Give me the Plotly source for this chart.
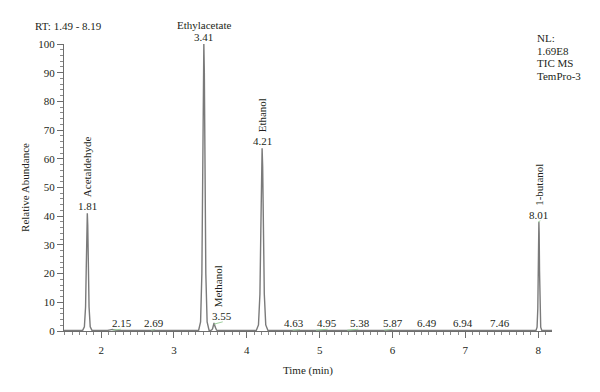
import plotly.graph_objects as go

# ---------------- data ----------------
# main labelled peaks
peak_rt = [1.81, 3.41, 3.55, 4.21, 8.01]
peak_height = [41.0, 100.0, 2.8, 63.7, 38.0]
peak_halfwidth = [0.040, 0.045, 0.035, 0.050, 0.025]
peak_name = ["Acetaldehyde", "Ethylacetate", "Methanol", "Ethanol", "1-butanol"]
peak_label = ["1.81", "3.41", "3.55", "4.21", "8.01"]

# small baseline peaks
minor_rt = [2.15, 2.69, 4.63, 4.95, 5.38, 5.87, 6.49, 6.94, 7.46]
minor_height = [0.5, 0.4, 0.4, 0.4, 0.4, 0.4, 0.3, 0.3, 0.3]
minor_label = ["2.15", "2.69", "4.63", "4.95", "5.38", "5.87", "6.49", "6.94", "7.46"]
minor_label_x = [2.29, 2.72, 4.645, 5.10, 5.55, 6.01, 6.48, 6.97, 7.48]

# green integration marks (start, end) under the small-peak labels
mark_start = [2.16, 2.69, 3.55, 4.63, 4.95, 5.38, 5.89, 8.00]
mark_end = [2.27, 2.74, 3.67, 4.73, 5.11, 5.53, 6.00, 8.03]
mark_y0 = [0.3, 0.3, 2.4, 0.3, 0.3, 0.3, 0.3, 38.0]
mark_y1 = [0.6, 0.5, 3.2, 0.5, 0.6, 0.6, 0.6, 38.4]

# peak profile (offset in half-widths, fraction of height)
profile_offset = [-1.6, -1.0, -0.6, -0.35, -0.15, 0.0, 0.15, 0.35, 0.6, 1.0, 1.6]
profile_frac = [0.0, 0.03, 0.2, 0.55, 0.9, 1.0, 0.9, 0.55, 0.2, 0.03, 0.0]

x_start, x_end = 1.49, 8.19
baseline = 0.2

# ---------------- build the trace from the peak table ----------------
all_peaks = sorted(
    [(r, h, w) for r, h, w in zip(peak_rt, peak_height, peak_halfwidth)]
    + [(r, h, 0.04) for r, h in zip(minor_rt, minor_height)]
)
xs, ys = [x_start], [baseline]
for r, h, w in all_peaks:
    for o, f in zip(profile_offset, profile_frac):
        xs.append(r + o * w)
        ys.append(baseline + f * (h - baseline))
xs.append(x_end)
ys.append(baseline)

fig = go.Figure()
fig.add_trace(go.Scatter(x=xs, y=ys, mode="lines",
                         line=dict(color="#7a7a7a", width=1.4),
                         hoverinfo="skip", showlegend=False))

gx, gy = [], []
for a, b, y0, y1 in zip(mark_start, mark_end, mark_y0, mark_y1):
    gx += [a, b, None]
    gy += [y0, y1, None]
fig.add_trace(go.Scatter(x=gx, y=gy, mode="lines",
                         line=dict(color="#9fd09f", width=1),
                         hoverinfo="skip", showlegend=False))

FONT = "Liberation Serif"
TXT = "#231f20"
ann = []
# main peak labels
for r, h, name, lab in zip(peak_rt, peak_height, peak_name, peak_label):
    lx = r + (0.11 if name == "Methanol" else 0.0)
    ann.append(dict(x=lx, y=h, xref="x", yref="y", text=lab, showarrow=False,
                    xanchor="center", yanchor="bottom", yshift=-1,
                    font=dict(family=FONT, size=11, color=TXT)))
    if name == "Ethylacetate":
        ann.append(dict(x=r, y=h, xref="x", yref="y", text=name, showarrow=False,
                        xanchor="center", yanchor="bottom", yshift=11,
                        font=dict(family=FONT, size=11, color=TXT)))
    else:
        ann.append(dict(x=lx - (0.05 if name == "Methanol" else 0.0), y=h, xref="x", yref="y",
                        text=name, showarrow=False, textangle=-90,
                        xanchor="center", yanchor="bottom", yshift=14,
                        font=dict(family=FONT, size=11, color=TXT)))
# minor labels
for lx, lab in zip(minor_label_x, minor_label):
    ann.append(dict(x=lx, y=0.6, xref="x", yref="y", text=lab, showarrow=False,
                    xanchor="center", yanchor="bottom", yshift=-2,
                    font=dict(family=FONT, size=11, color=TXT)))

# header texts
ann.append(dict(x=(33 - 64) / 488, y=(331 - 26) / 287, xref="paper", yref="paper",
                text="RT: 1.49 - 8.19", showarrow=False, xanchor="left", yanchor="middle",
                font=dict(family=FONT, size=11, color=TXT)))
for i, t in enumerate(["NL:", "1.69E8", "TIC MS", "TemPro-3"]):
    ann.append(dict(x=(535 - 64) / 488, y=(331 - (38 + 12.7 * i)) / 287,
                    xref="paper", yref="paper", text=t, showarrow=False,
                    xanchor="left", yanchor="middle",
                    font=dict(family=FONT, size=11, color=TXT)))

fig.update_layout(
    width=600, height=392,
    margin=dict(l=64, r=48, t=44, b=61),
    paper_bgcolor="white", plot_bgcolor="white",
    font=dict(family=FONT, size=11, color=TXT),
    annotations=ann,
    xaxis=dict(range=[x_start, x_end], showgrid=False, zeroline=False, automargin=False,
               showline=True, linecolor="#6d6d6d", linewidth=1,
               tickmode="array", tickvals=[2, 3, 4, 5, 6, 7, 8],
               ticks="outside", ticklen=6, tickcolor="#6d6d6d",
               minor=dict(dtick=0.1, tick0=0, ticks="outside", ticklen=3, tickcolor="#8a8a8a"),
               title=dict(text="Time (min)", font=dict(family=FONT, size=11), standoff=11),
               ticklabelstandoff=3,
               tickfont=dict(family=FONT, size=11)),
    yaxis=dict(range=[0, 100], showgrid=False, zeroline=False, automargin=False,
               showline=True, linecolor="#6d6d6d", linewidth=1,
               tickmode="array", tickvals=list(range(0, 101, 10)),
               ticks="outside", ticklen=6, tickcolor="#6d6d6d",
               minor=dict(dtick=2, tick0=0, ticks="outside", ticklen=3, tickcolor="#8a8a8a"),
               title=dict(text="Relative Abundance", font=dict(family=FONT, size=11), standoff=6),
               tickfont=dict(family=FONT, size=11)),
)

fig.write_html("out.html", config={"displayModeBar": False},
               post_script="document.body.style.margin='0';document.body.style.overflow='hidden';")
